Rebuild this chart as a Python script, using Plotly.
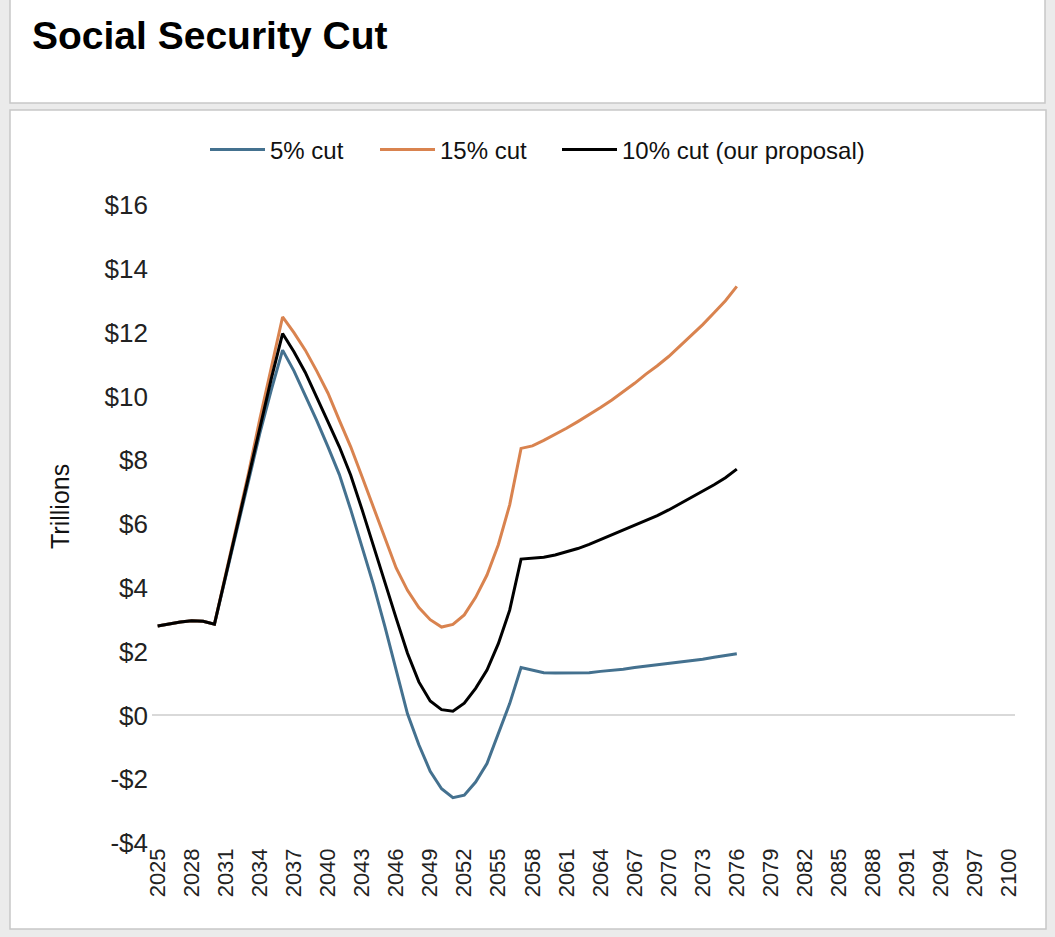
import plotly.graph_objects as go

years = list(range(2025, 2077))

cut_5 = [2.80, 2.87, 2.93, 2.97, 2.95, 2.86,
         4.35, 5.85, 7.35, 8.85, 10.20, 11.45, 10.80, 10.05, 9.25, 8.42,
         7.55, 6.45, 5.30, 4.10, 2.80, 1.38, 0.05, -0.92, -1.75, -2.30,
         -2.58, -2.50, -2.09, -1.51, -0.57, 0.37, 1.50, 1.41, 1.34, 1.33,
         1.33, 1.33, 1.34, 1.38, 1.41, 1.45, 1.50, 1.54, 1.58, 1.62,
         1.66, 1.71, 1.76, 1.82, 1.88, 1.93]

cut_15 = [2.80, 2.87, 2.93, 2.97, 2.95, 2.86,
          4.42, 6.00, 7.60, 9.30, 10.95, 12.49, 12.00, 11.45, 10.80, 10.10,
          9.25, 8.42, 7.48, 6.53, 5.59, 4.62, 3.92, 3.38, 3.00, 2.77,
          2.85, 3.15, 3.70, 4.40, 5.35, 6.60, 8.37, 8.45, 8.62, 8.80,
          9.00, 9.21, 9.42, 9.65, 9.89, 10.15, 10.41, 10.70, 10.96, 11.25,
          11.58, 11.92, 12.25, 12.62, 13.00, 13.45]

cut_10 = [2.80, 2.87, 2.93, 2.97, 2.95, 2.86,
          4.40, 5.95, 7.50, 9.05, 10.55, 11.97, 11.40, 10.75, 10.00, 9.20,
          8.42, 7.53, 6.45, 5.30, 4.20, 3.05, 1.95, 1.05, 0.45, 0.18,
          0.13, 0.38, 0.85, 1.42, 2.25, 3.30, 4.90, 4.92, 4.96, 5.03,
          5.12, 5.23, 5.36, 5.51, 5.65, 5.79, 5.94, 6.10, 6.26, 6.44,
          6.64, 6.83, 7.02, 7.23, 7.45, 7.72]

series_names = ["5% cut", "15% cut", "10% cut (our proposal)"]
series_colors = ["#44718f", "#d9834f", "#000000"]
legend_widths = [100, 112, 260]

x_tick_years = list(range(2025, 2101, 3))
y_tick_vals = [-4, -2, 0, 2, 4, 6, 8, 10, 12, 14, 16]
y_tick_text = ["-$4", "-$2", "$0", "$2", "$4", "$6", "$8", "$10", "$12", "$14", "$16"]

W, H = 1055, 937
L, R, T, B = 152, 40, 205, 94
PW, PH = W - L - R, H - T - B


def px(x):
    return (x - L) / PW


def py(y):
    return (H - B - y) / PH


fig = go.Figure()
for name, vals, color, lw in zip(series_names, [cut_5, cut_15, cut_10], series_colors, legend_widths):
    fig.add_trace(go.Scatter(x=years, y=vals, mode="lines", name=name, legendwidth=lw,
                             line=dict(color=color, width=3)))

fig.update_layout(
    width=W, height=H,
    margin=dict(l=L, r=R, t=T, b=B),
    paper_bgcolor="#ebebeb",
    plot_bgcolor="rgba(0,0,0,0)",
    font=dict(family="Liberation Sans, Arial, sans-serif", color="#222222"),
    showlegend=True,
    legend=dict(orientation="h", x=px(205), xanchor="left", y=py(150), yanchor="middle",
                font=dict(size=24, color="#111111"), itemwidth=55,
                bgcolor="rgba(0,0,0,0)", traceorder="normal"),
    xaxis=dict(range=[2024.5, 2100.5], tickvals=x_tick_years, tickangle=-90,
               showgrid=False, zeroline=False, showline=False, ticks="",
               tickfont=dict(size=22, color="#222222")),
    yaxis=dict(range=[-4, 16], tickvals=y_tick_vals, ticktext=y_tick_text,
               showgrid=False, zeroline=True, zerolinecolor="#d9d9d9", zerolinewidth=1.5,
               showline=False, ticks="", ticklabelstandoff=3,
               tickfont=dict(size=26, color="#222222")),
    shapes=[
        dict(type="rect", xref="paper", yref="paper", layer="below",
             x0=px(10), x1=px(1045), y0=py(-5), y1=py(103),
             fillcolor="white", line=dict(color="#c8c8c8", width=1.5)),
        dict(type="rect", xref="paper", yref="paper", layer="below",
             x0=px(10), x1=px(1046), y0=py(110), y1=py(929),
             fillcolor="white", line=dict(color="#c8c8c8", width=1.5)),
    ],
    annotations=[
        dict(text="<b>Social Security Cut</b>", xref="paper", yref="paper",
             x=px(30), y=py(35), xanchor="left", yanchor="middle", showarrow=False,
             font=dict(family="Liberation Sans, Arial", size=39, color="#000000")),
        dict(text="Trillions", xref="paper", yref="paper", textangle=-90,
             x=px(60), y=py(507), xanchor="center", yanchor="middle", showarrow=False,
             font=dict(size=25, color="#111111")),
    ],
)

fig.write_html("out.html")
